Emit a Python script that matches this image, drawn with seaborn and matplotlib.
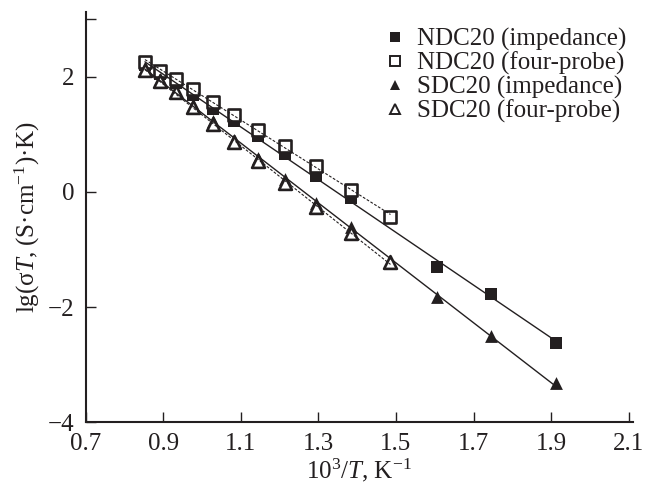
import numpy as np
import pandas as pd
import matplotlib
matplotlib.use('Agg')
import matplotlib.pyplot as plt
import seaborn as sns
from matplotlib.lines import Line2D

# 10^3/T for 900 ... 250 C
x_all = [0.853, 0.891, 0.932, 0.978, 1.028, 1.083, 1.145, 1.215, 1.294, 1.383,
         1.486, 1.605, 1.745, 1.912]

# NDC20 impedance (no point at 1.486)
ndc_imp_x = x_all[:10] + x_all[11:]
ndc_imp_y = [2.20, 2.05, 1.88, 1.68, 1.43, 1.23, 0.96, 0.66, 0.28, -0.10,
             -1.31, -1.78, -2.62]

# NDC20 four-probe
ndc_4p_x = x_all[:11]
ndc_4p_y = [2.26, 2.10, 1.96, 1.78, 1.56, 1.34, 1.07, 0.80, 0.44, 0.03, -0.44]

# SDC20 impedance
sdc_imp_x = x_all[:10] + x_all[11:]
sdc_imp_y = [2.15, 1.95, 1.75, 1.50, 1.22, 0.90, 0.58, 0.23, -0.19, -0.61,
             -1.82, -2.51, -3.32]

# SDC20 four-probe
sdc_4p_x = x_all[:11]
sdc_4p_y = [2.12, 1.93, 1.73, 1.47, 1.18, 0.86, 0.54, 0.15, -0.26, -0.71, -1.21]

labels = ['NDC20 (impedance)', 'NDC20 (four-probe)',
          'SDC20 (impedance)', 'SDC20 (four-probe)']

ink = '#231f20'

sns.set_style('ticks')
plt.rcParams['font.family'] = ['Liberation Serif', 'DejaVu Serif']
plt.rcParams['mathtext.fontset'] = 'custom'
plt.rcParams['mathtext.rm'] = 'Liberation Serif'
plt.rcParams['mathtext.it'] = 'Liberation Serif:italic'
plt.rcParams['axes.unicode_minus'] = True

fig = plt.figure(figsize=(6.45, 4.93), dpi=100)
ax = fig.add_axes([0.1327, 0.1434, 0.848, 0.8323])

series = [
    (ndc_imp_x, ndc_imp_y, 's', True, '-'),
    (ndc_4p_x, ndc_4p_y, 's', False, (0, (2.5, 1.5))),
    (sdc_imp_x, sdc_imp_y, '^', True, '-'),
    (sdc_4p_x, sdc_4p_y, '^', False, (0, (2.5, 1.5))),
]

handles = []
for (xs, ys, mk, filled, ls), lab in zip(series, labels):
    df = pd.DataFrame({'x': xs, 'y': ys})
    size = 72 if mk == 's' else 85
    sns.scatterplot(data=df, x='x', y='y', marker=mk, s=size, ax=ax,
                    color=ink if filled else 'white',
                    edgecolor=ink, linewidth=0 if filled else 1.9,
                    zorder=2, legend=False)
    sns.regplot(data=df, x='x', y='y', scatter=False, ci=None, truncate=True,
                ax=ax, color=ink,
                line_kws={'lw': 1.0 if ls == '-' else 0.8, 'ls': ls, 'zorder': 3})
    handles.append(Line2D([], [], marker=mk, ls='none', ms=6.5 if mk == 's' else 7,
                          mfc=ink if filled else 'white', mec=ink,
                          mew=0 if filled else 1.4, label=lab))

ax.set_xlim(0.7, 2.11)
ax.set_ylim(-4, 3.12)
ax.set_xticks([0.7, 0.9, 1.1, 1.3, 1.5, 1.7, 1.9, 2.1])
ax.set_xticklabels(['0.7', '0.9', '1.1', '1.3', '1.5', '1.7', '1.9', '2.1'])
ax.set_yticks([-4, -2, 0, 2, 3])
ax.set_yticklabels(['\u22124', '\u22122', '0', '2', ''])

sns.despine(ax=ax)
for s in ['left', 'bottom']:
    ax.spines[s].set_linewidth(1.5)
    ax.spines[s].set_color(ink)
ax.tick_params(direction='in', length=7, width=1, colors=ink, labelsize=18)
ax.tick_params(axis='x', pad=8)
ax.tick_params(axis='y', pad=8)

ax.set_xlabel(r'10$^{3}$/$T$, K$^{-1}$', fontsize=18, color=ink, labelpad=1)
ax.set_ylabel(r'lg(σ$T$, (S·cm$^{-1}$)·K)', fontsize=18, color=ink, labelpad=4)

ax.legend(handles=handles, loc='upper right', bbox_to_anchor=(1.03, 1.015),
          frameon=False, fontsize=18, handletextpad=0.35, handlelength=1.1,
          labelspacing=0.02, labelcolor=ink)

fig.savefig('out.png', dpi=100)
